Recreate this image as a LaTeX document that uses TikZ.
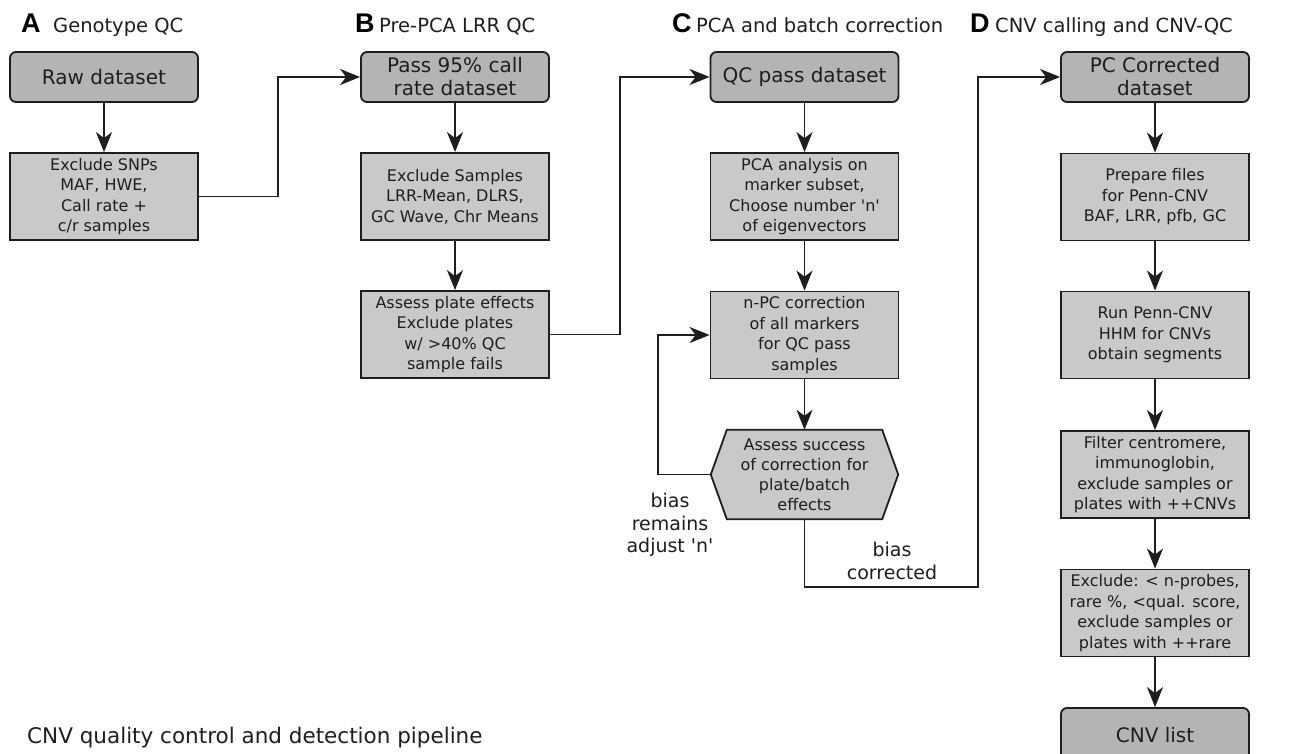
\documentclass[tikz,border=0pt]{standalone}
\usepackage{fontspec}
\setmainfont{DejaVu Sans}[Ligatures=TeXOff]
\newfontfamily\lettfont{Liberation Sans}
\usetikzlibrary{arrows.meta,backgrounds}
\definecolor{linec}{HTML}{1E1E1E}
\definecolor{rfill}{HTML}{B4B4B4}
\definecolor{sfill}{HTML}{C9C9C9}
\tikzset{
  base/.style={draw=linec, line width=1.8pt, align=center, inner sep=2pt, text=linec},
  rbox/.style={base, fill=rfill, rounded corners=6pt, minimum width=188pt, minimum height=50pt, font=\fontsize{20}{23}\selectfont},
  sbox/.style={base, fill=sfill, minimum width=188pt, minimum height=87pt, font=\fontsize{16}{20.5}\selectfont},
  hexnode/.style={align=center, inner sep=2pt, text=linec, minimum width=187pt, minimum height=89pt, font=\fontsize{16}{20}\selectfont},
  hexshape/.style={draw=linec, line width=1.8pt, fill=sfill},
  arr/.style={draw=linec, line width=1.8pt, -{Stealth[length=20pt,width=16pt,inset=6pt]}},
  lbl/.style={align=center, text=linec, inner sep=0pt, font=\fontsize{19}{22.5}\selectfont},
  letter/.style={anchor=base west, inner sep=0pt, text=black, font=\lettfont\bfseries\fontsize{27}{30}\selectfont},
  ttl/.style={anchor=base west, inner sep=0pt, text=linec, font=\fontsize{19.5}{22}\selectfont},
}
\begin{document}
\begin{tikzpicture}[x=1pt,y=-1pt]
\useasboundingbox (0,0) rectangle (1300,754);
\clip (0,0) rectangle (1300,754);
\begin{scope}[on background layer]
\fill[white] (0,0) rectangle (1300,754);
\end{scope}

% titles
\node[letter] (LA) at (21,33) {A};
\node[ttl] (TA) at (53,33) {Genotype QC};
\node[letter] (LB) at (355,33) {B};
\node[ttl] (TB) at (379,33) {Pre-PCA LRR QC};
\node[letter] (LC) at (672,33) {C};
\node[ttl] (TC) at (696,33) {PCA and batch correction};
\node[letter] (LD) at (970,33) {D};
\node[ttl] (TD) at (995,33) {CNV calling and CNV-QC};

% column A
\node[rbox] (raw) at (104,77) {Raw dataset};
\node[sbox] (snps) at (104,196.5) {Exclude SNPs\\MAF, HWE,\\Call rate +\\c/r samples};

% column B
\node[rbox] (pass) at (455,77) {Pass 95\% call\\rate dataset};
\node[sbox] (exs) at (455,196.5) {Exclude Samples\\LRR-Mean, DLRS,\\GC Wave, Chr Means};
\node[sbox] (plate) at (455,334.5) {Assess plate effects\\Exclude plates\\w/ >40\% QC\\sample fails};

% column C
\node[rbox] (qcp) at (804.5,77) {QC pass dataset};
\node[sbox] (pca) at (804.5,196.5) {PCA analysis on\\marker subset,\\Choose number 'n'\\of eigenvectors};
\node[sbox] (npc) at (804.5,335) {n-PC correction\\of all markers\\for QC pass\\samples};
\node[hexnode] (hex) at (804.5,474.5) {Assess success\\of correction for\\plate/batch\\effects};
\begin{scope}[on background layer]
\draw[hexshape] (hex.west) -- ([xshift=16pt]hex.north west) -- ([xshift=-16pt]hex.north east)
  -- (hex.east) -- ([xshift=-16pt]hex.south east) -- ([xshift=16pt]hex.south west) -- cycle;
\end{scope}

% column D
\node[rbox] (pcc) at (1155,77) {PC Corrected\\dataset};
\node[sbox] (prep) at (1155,197) {Prepare files\\for Penn-CNV\\BAF, LRR, pfb, GC};
\node[sbox] (run) at (1155,335) {Run Penn-CNV\\HHM for CNVs\\obtain segments};
\node[sbox] (filt) at (1155,474.5) {Filter centromere,\\immunoglobin,\\exclude samples or\\plates with ++CNVs};
\node[sbox] (excl) at (1155,613) {Exclude: < n-probes,\\rare \%, <qual. score,\\exclude samples or\\plates with ++rare};
\node[rbox, minimum height=54pt] (cnv) at (1155,735) {CNV list};

% vertical arrows
\draw[arr] (raw) -- (snps);
\draw[arr] (pass) -- (exs);
\draw[arr] (exs) -- (plate);
\draw[arr] (qcp) -- (pca);
\draw[arr] (pca) -- (npc);
\draw[arr] (npc) -- (hex.north);
\draw[arr] (pcc) -- (prep);
\draw[arr] (prep) -- (run);
\draw[arr] (run) -- (filt);
\draw[arr] (filt) -- (excl);
\draw[arr] (excl) -- (cnv);

% cross-column connectors
\draw[arr] (snps.east) -| (278,77) -- (pass.west);
\draw[arr] (plate.east) -| (620,77) -- (qcp.west);
\draw[arr] (hex.west) -| (658,335) -- (npc.west);
\draw[arr] (hex.south) |- (978,587) |- (pcc.west);

% labels
\node[lbl] (remain) at (670,525) {bias\\remains\\adjust 'n'};
\node[lbl] (corr) at (892,561) {bias\\corrected};

% caption
\node[anchor=base west, inner sep=0pt, text=linec, font=\fontsize{21.5}{24}\selectfont] (cap) at (27,743) {CNV quality control and detection pipeline};
\end{tikzpicture}
\end{document}
